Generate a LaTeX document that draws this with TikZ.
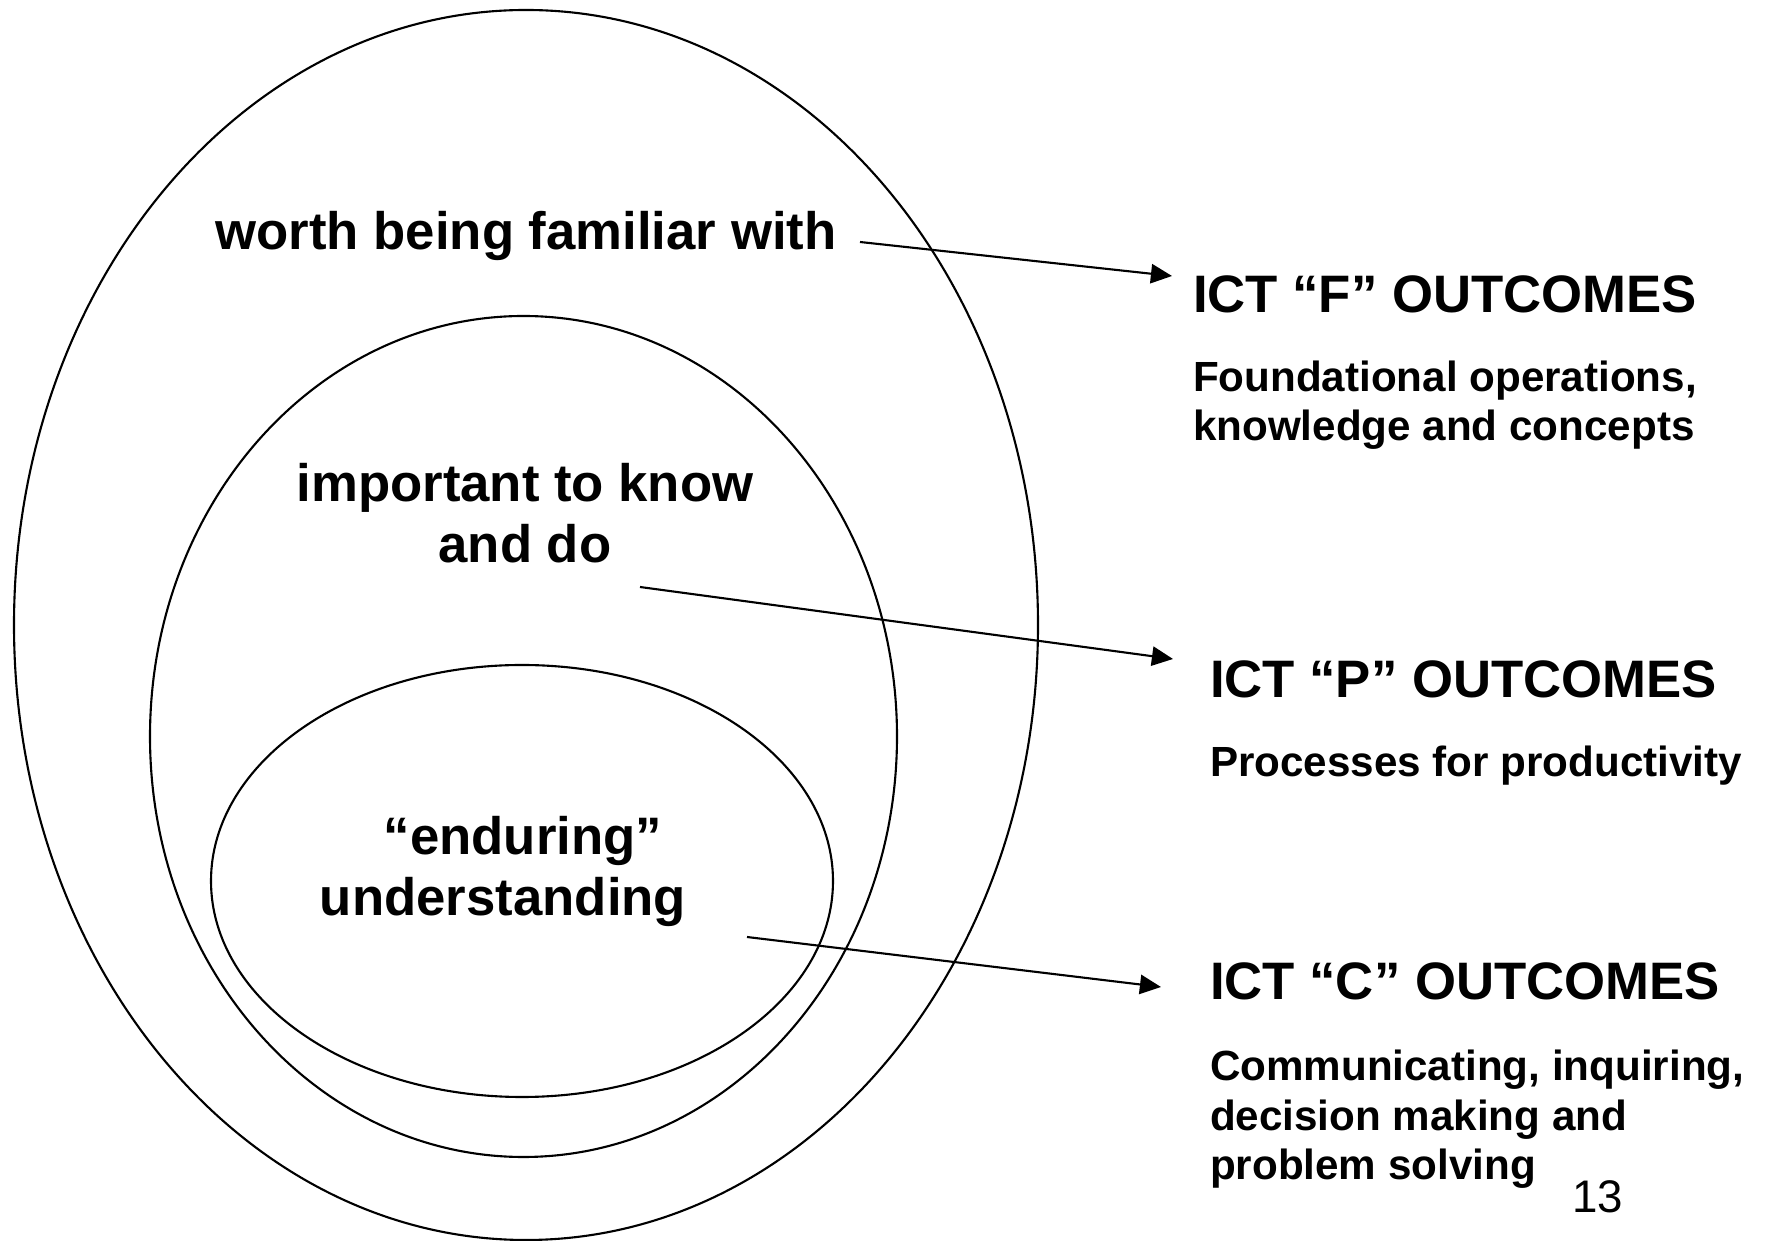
\documentclass[tikz,border=0pt]{standalone}
\usepackage{fontspec}
\setmainfont{Liberation Sans}
\usetikzlibrary{arrows.meta}
\begin{document}
\begin{tikzpicture}[line width=.6pt,
  lab/.style={font=\bfseries\fontsize{15}{17.6}\selectfont, align=center, anchor=base, inner sep=0},
  outcome/.style={font=\bfseries\fontsize{15}{18}\selectfont, anchor=base west, inner sep=0},
  note/.style={font=\bfseries\fontsize{12}{14.2}\selectfont, align=left, anchor=base west, inner sep=0},
  pointer/.style={-{Triangle[length=6pt,width=5.5pt]}}]
\useasboundingbox (0,0) rectangle (17.66,12.41);
% three nested rings
\draw (5.26,6.16) ellipse [x radius=5.12, y radius=6.15];
\draw (5.235,5.045) ellipse [x radius=3.735, y radius=4.205];
\draw (5.22,3.60) ellipse [x radius=3.11, y radius=2.16];
% ring labels (base = last line)
\node[lab] (worth) at (5.26,9.91) {worth being familiar with};
\node[lab] (know) at (5.25,6.78) {important to know\\and do};
\node[lab] (endur) at (5.03,3.25) {\hspace*{4mm}“enduring”\\understanding};
% outcomes
\node[outcome] (ictF) at (11.92,9.28) {ICT “F” OUTCOMES};
\node[note] (fText) at (11.92,8.00) {Foundational operations,\\knowledge and concepts};
\node[outcome] (ictP) at (12.09,5.43) {ICT “P” OUTCOMES};
\node[note] (pText) at (12.09,4.64) {Processes for productivity};
\node[outcome] (ictC) at (12.09,2.41) {ICT “C” OUTCOMES};
\node[note] (cText) at (12.09,0.61) {Communicating, inquiring,\\decision making and\\problem solving};
\node[anchor=base west, inner sep=0, font=\fontsize{13}{15}\selectfont] (page) at (15.71,0.28) {13};
% arrows
\coordinate (fFrom) at (8.60,9.99); \coordinate (fTo) at (11.72,9.65);
\coordinate (pFrom) at (6.40,6.54); \coordinate (pTo) at (11.73,5.82);
\coordinate (cFrom) at (7.47,3.04); \coordinate (cTo) at (11.61,2.54);
\draw[pointer] (fFrom) -- (fTo);
\draw[pointer] (pFrom) -- (pTo);
\draw[pointer] (cFrom) -- (cTo);
\end{tikzpicture}
\end{document}
